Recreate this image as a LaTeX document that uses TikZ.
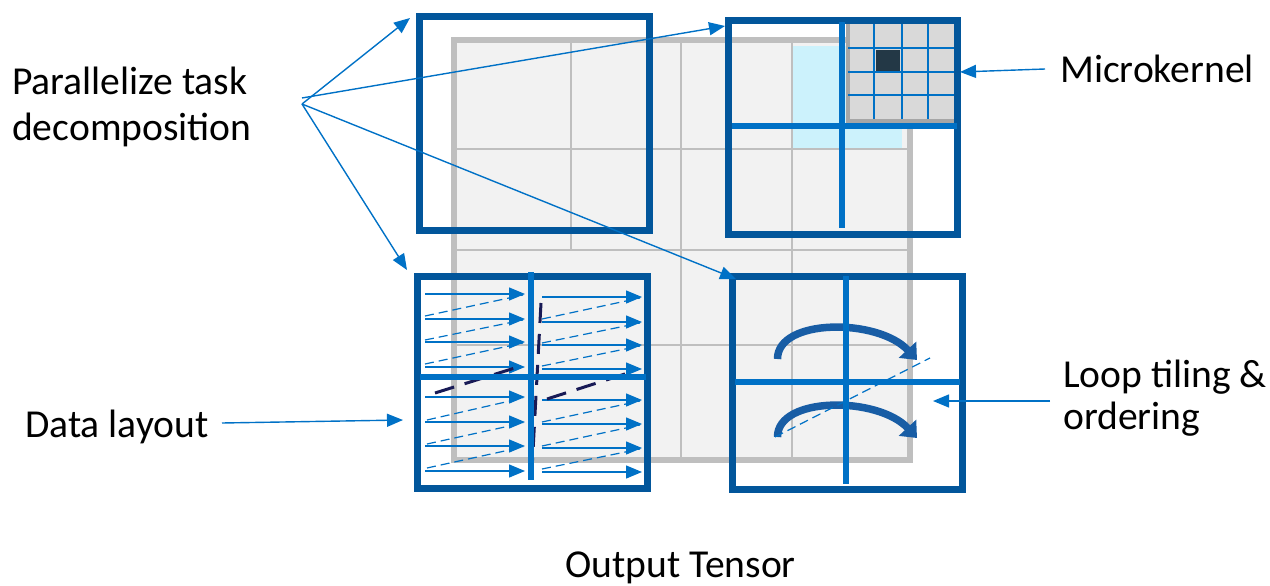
\documentclass[tikz,border=0pt]{standalone}
\usepackage{fontspec}
\setmainfont{Carlito}
\usetikzlibrary{arrows.meta,calc}

\definecolor{frameblue}{RGB}{2,86,155}
\definecolor{xblue}{RGB}{0,113,198}
\definecolor{arcblue}{RGB}{24,93,165}
\definecolor{navyline}{RGB}{24,26,86}
\definecolor{tilefill}{RGB}{242,242,242}
\definecolor{tileline}{RGB}{191,191,191}
\definecolor{hotcell}{RGB}{204,242,252}
\definecolor{kfill}{RGB}{217,217,217}
\definecolor{kborder}{RGB}{166,166,166}
\definecolor{kdark}{RGB}{35,56,70}

\begin{document}
\begin{tikzpicture}[x=1pt,y=-1pt,
  lbl/.style={anchor=base west,inner sep=0pt,font=\fontsize{39.6pt}{46pt}\selectfont},
  frame/.style={draw=frameblue,line width=7pt,minimum width=230pt,minimum height=213pt,inner sep=0pt,outer sep=0pt},
  crossbar/.style={draw=xblue,line width=6pt},
  gridline/.style={draw=tileline,line width=1.5pt},
  callout/.style={draw=xblue,line width=1.4pt,-{Triangle[length=16pt,width=13pt]}},
  flow/.style={draw=xblue,line width=1.4pt,-{Triangle[length=16pt,width=13pt]}},
  zdash/.style={draw=xblue,line width=1.2pt,dash pattern=on 9pt off 5pt},
  orderdash/.style={draw=navyline,line width=3pt,dash pattern=on 20pt off 11pt},
  looparc/.style={draw=arcblue,line width=7.5pt,-{Triangle[length=14pt,width=23pt]}}]
\useasboundingbox (0,0) rectangle (1270,586);

% output tensor tiles
\draw[draw=tileline,line width=6pt,fill=tilefill] (453.5,40) rectangle (910,460);
\draw[gridline] (681,40) -- (681,460);
\draw[gridline] (792,40) -- (792,460);
\draw[gridline] (571,40) -- (571,250);
\draw[gridline] (453.5,250) -- (910,250);
\draw[gridline] (453.5,149) -- (910,149);
\draw[gridline] (453.5,345) -- (910,345);
\fill[hotcell] (793,46) rectangle (902,148);

% microkernel register block
\draw[draw=kborder,line width=4pt,fill=kfill] (847.5,20) rectangle (957,120.5);
\foreach \x in {874,902,928} \draw[draw=xblue,line width=1.5pt] (\x,22) -- (\x,119);
\foreach \y in {48,72,95} \draw[draw=xblue,line width=1.5pt] (848,\y) -- (955,\y);
\fill[kdark] (876,50) rectangle (900,71);

% block frames
\node[frame] (tl) at (534,123.5) {};
\node[frame,minimum width=229pt] (tr) at (842.5,127.5) {};
\node[frame,minimum height=212pt] (bl) at (532,382) {};
\node[frame] (br) at (847,382.5) {};

% data layout: row-major traversal inside each sub-block
\foreach \y in {294,319,342,367,397,422,446,471} \draw[flow] (425,\y) -- (525,\y);
\foreach \y in {297,322,345,369,400,424,448,472} \draw[flow] (542,\y) -- (642,\y);
\foreach \a/\b/\c in {316/295/425,340/320/425,364/343/425,420/398/427,444/423/427,468/447/427}
  \draw[zdash] (\c,\a) -- (523,\b);
\foreach \a/\b in {319/298,343/323,366/346,422/401,446/425,469/449}
  \draw[zdash] (542,\a) -- (640,\b);
\draw[orderdash] (435,393) -- (518,367);
\draw[orderdash] (541,303) -- (531,488);
\draw[orderdash] (547,399) -- (628,373);

% loop order arcs
\draw[looparc] (777.5,359) .. controls (777.5,318) and (878,318) .. (917,360);
\draw[looparc] (777.5,437) .. controls (777.5,396) and (878,396) .. (917,438);

% sub-block partitions
\draw[crossbar] (842,22) -- (842,228);
\draw[crossbar] (732,126) -- (957,126);
\draw[crossbar] (531,272) -- (531,480);
\draw[crossbar] (420,377) -- (646,377);
\draw[crossbar] (846,276) -- (846,484);
\draw[crossbar] (735,382) -- (960,382);
\draw[zdash] (775,437) -- (930,358);

% labels
\node[lbl] (par1) at (12,95) {Parallelize task};
\node[lbl] (par2) at (12,140) {decomposition};
\node[lbl] (mk) at (1060,83) {Microkernel};
\node[lbl] (loop1) at (1063,387) {Loop tiling \&};
\node[lbl] (loop2) at (1063,429) {ordering};
\node[lbl] (dl) at (25,437) {Data layout};
\node[lbl] (out) at (565,577) {Output Tensor};

% callouts
\coordinate (fan) at (302,104);
\coordinate (fanhi) at (302,98);
\coordinate (mkfrom) at (1045,69);
\coordinate (loopfrom) at (1050,401);
\coordinate (dlfrom) at (222,423);
\draw[callout] (fan) -- ($(tl.north west)+(-9,1)$);
\draw[callout] (fanhi) -- ($(tr.north west)+(-3,5)$);
\draw[callout] (fan) -- ($(bl.north west)+(-10,-6)$);
\draw[callout] (fan) -- ($(br.north west)+(4,3)$);
\draw[callout] (mkfrom) -- ($(tr.north east)+(3,51)$);
\draw[callout] (loopfrom) -- ($(br.east)+(-29,18.5)$);
\draw[callout] (dlfrom) -- ($(bl.west)+(-14,38)$);
\end{tikzpicture}
\end{document}
